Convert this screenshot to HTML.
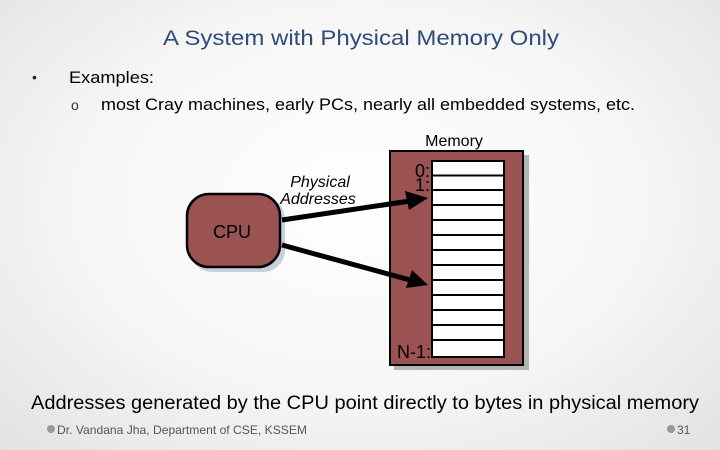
<!DOCTYPE html>
<html><head><meta charset="utf-8"><style>
html,body{margin:0;padding:0;}
body{width:720px;height:450px;overflow:hidden;background:radial-gradient(ellipse at 50% 45%,#ffffff 0%,#f6f6f6 55%,#e2e2e2 100%);}
svg{display:block;font-family:"Liberation Sans",Arial,sans-serif;}
</style></head><body>
<svg width="720" height="450" viewBox="0 0 720 450">
<text x="361" y="45" font-size="21" fill="#2f4b7a" text-anchor="middle" textLength="396" lengthAdjust="spacingAndGlyphs">A System with Physical Memory Only</text>
<text x="32" y="82" font-size="14" fill="#222">•</text>
<text x="69" y="83" font-size="17" fill="#000" textLength="85" lengthAdjust="spacingAndGlyphs">Examples:</text>
<text x="71" y="110" font-size="14" fill="#333">o</text>
<text x="101" y="110" font-size="17" fill="#000" textLength="534" lengthAdjust="spacingAndGlyphs">most Cray machines, early PCs, nearly all embedded systems, etc.</text>

<text x="454" y="146" font-size="16" fill="#000" text-anchor="middle">Memory</text>
<rect x="394" y="155" width="135" height="215" fill="#b4b4b4"/>
<rect x="390" y="151" width="133" height="214" fill="#9a5252" stroke="#000" stroke-width="2"/>
<rect x="432" y="161" width="72" height="196" fill="#fff" stroke="#000" stroke-width="2"/>
<g stroke="#000" stroke-width="2">
<line x1="432" y1="175.5" x2="504" y2="175.5"/>
<line x1="432" y1="190" x2="504" y2="190"/>
<line x1="432" y1="205" x2="504" y2="205"/>
<line x1="432" y1="220" x2="504" y2="220"/>
<line x1="432" y1="235" x2="504" y2="235"/>
<line x1="432" y1="250" x2="504" y2="250"/>
<line x1="432" y1="265" x2="504" y2="265"/>
<line x1="432" y1="280" x2="504" y2="280"/>
<line x1="432" y1="295" x2="504" y2="295"/>
<line x1="432" y1="310" x2="504" y2="310"/>
<line x1="432" y1="325" x2="504" y2="325"/>
<line x1="432" y1="340" x2="504" y2="340"/>
</g>
<text x="430" y="177" font-size="18" fill="#000" text-anchor="end">0:</text>
<text x="430" y="191" font-size="18" fill="#000" text-anchor="end">1:</text>
<text x="431" y="358" font-size="18" fill="#000" text-anchor="end">N-1:</text>

<rect x="190" y="197" width="95" height="75" rx="22" fill="#c8d0dc"/>
<rect x="187" y="194" width="93" height="73" rx="22" fill="#9a5252" stroke="#000" stroke-width="2.5"/>
<text x="232" y="238" font-size="18" fill="#000" text-anchor="middle">CPU</text>

<text x="320" y="187" font-size="16" font-style="italic" fill="#000" text-anchor="middle">Physical</text>
<text x="318" y="204" font-size="16" font-style="italic" fill="#000" text-anchor="middle">Addresses</text>

<g stroke="#000" stroke-width="5" fill="none">
<line x1="282" y1="220" x2="410" y2="201"/>
<line x1="282" y1="245" x2="410" y2="280"/>
</g>
<polygon points="428,198 405,191 409,210" fill="#000"/>
<polygon points="428,285 412,270 406,288" fill="#000"/>

<text x="365" y="409" font-size="19" fill="#000" text-anchor="middle" textLength="668" lengthAdjust="spacingAndGlyphs">Addresses generated by the CPU point directly to bytes in physical memory</text>
<circle cx="51" cy="429" r="4" fill="#999"/>
<text x="57" y="434" font-size="12" fill="#555" textLength="250" lengthAdjust="spacingAndGlyphs">Dr. Vandana Jha,  Department of CSE, KSSEM</text>
<circle cx="671" cy="429" r="4" fill="#999"/>
<text x="677" y="434" font-size="12" fill="#555">31</text>
</svg>
</body></html>
